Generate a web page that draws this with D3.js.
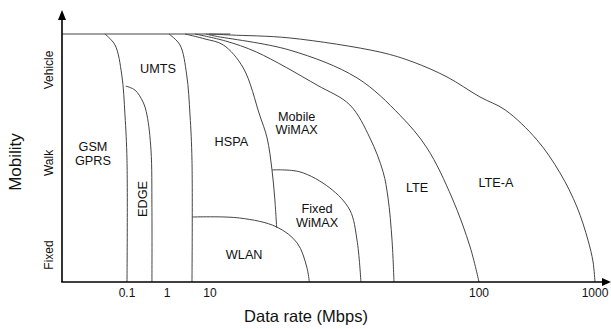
<!DOCTYPE html>
<html lang="en">
<head>
<meta charset="UTF-8">
<title>Mobility vs data rate</title>
<script src="https://d3js.org/d3.v7.min.js"></script>
<style>
  body { margin: 0; background: #fff; }
  .boundary { fill: none; stroke: #444; stroke-width: 1; }
  .axis-line { stroke: #000; stroke-width: 1.6; }
  text { font-family: "Liberation Sans", Arial, sans-serif; fill: #111; }
</style>
</head>
<body>
<script>
// x tick values (Mbps) and mobility levels
const rateTicks = [0.1, 1, 10, 100, 1000];
const mobilityLevels = ["Fixed", "Walk", "Vehicle"];
const mobilityPos = [0.109, 0.48, 0.855];

// boundary curves, [rate in Mbps, mobility 0..1]
const topLine = [[0.0024, 1], [11.9, 1]];
const gsm = [[0.028, 1], [0.05, 0.956], [0.074, 0.835], [0.089, 0.673], [0.1, 0.49], [0.1, 0]];
const edge = [[0.093, 0.79], [0.158, 0.774], [0.251, 0.726], [0.316, 0.673], [0.398, 0.532], [0.42, 0.3], [0.42, 0]];
const umts = [[1.11, 1], [2.0, 0.956], [2.87, 0.835], [3.43, 0.673], [3.81, 0.49], [3.81, 0]];
const hspa = [[2.62, 1], [7.65, 0.98], [11.2, 0.956], [13.3, 0.863], [15.3, 0.673], [16.3, 0.581], [17.0, 0.452], [17.4, 0.339], [17.7, 0.218]];
const mobileWimax = [[4.48, 1], [11.4, 0.972], [14.9, 0.927], [25.0, 0.794], [33.1, 0.714], [39.3, 0.581], [44.0, 0.444], [45.9, 0.339], [47.5, 0.169], [48.3, 0]];
const lte = [[8.0, 1], [10.4, 0.992], [19.8, 0.935], [35.2, 0.823], [50.8, 0.673], [64.1, 0.54], [79.4, 0.339], [92.7, 0.141], [100, 0]];
const lteA = [[9.5, 1], [11.9, 0.996], [19.8, 0.984], [42.9, 0.927], [56.9, 0.887], [76.0, 0.827], [102, 0.746], [168, 0.694], [316, 0.573], [499, 0.44], [700, 0.302], [870, 0.169], [962, 0.081], [1000, 0]];
const wlan = [[3.81, 0.262], [12.9, 0.258], [17.7, 0.222], [21.1, 0.157], [22.9, 0.06], [23.4, 0]];
const fixedWimax = [[17.0, 0.452], [21.6, 0.444], [27.9, 0.379], [33.1, 0.29], [35.2, 0.169], [36.4, 0]];

const boundaries = [topLine, gsm, edge, umts, hspa, mobileWimax, lte, lteA, wlan, fixedWimax];

// region labels: lines of text, rate, mobility, rotated?
const regionNames = [["GSM", "GPRS"], ["UMTS"], ["EDGE"], ["HSPA"], ["Mobile", "WiMAX"], ["Fixed", "WiMAX"], ["WLAN"], ["LTE"], ["LTE-A"]];
const regionRates = [0.0141, 0.596, 0.251, 12.0, 21.0, 25.0, 13.4, 58.9, 140];
const regionMobility = [0.518, 0.861, 0.335, 0.565, 0.641, 0.268, 0.109, 0.379, 0.403];
const regionRotated = [false, false, true, false, false, false, false, false, false];

const width = 611, height = 329;
const x0 = 62, xEnd = 610, yBase = 282, yTop = 10;

const svg = d3.select("body").append("svg")
    .attr("width", width)
    .attr("height", height);

// the printed log axis is not evenly spaced, so each decade gets its own segment
const x = d3.scaleLog()
    .domain(rateTicks)
    .range([127, 167, 210, 479, 595]);

const y = d3.scaleLinear()
    .domain([0, 1])
    .range([yBase, 34]);

const line = d3.line()
    .x(d => x(d[0]))
    .y(d => y(d[1]))
    .curve(d3.curveCatmullRom.alpha(0.5));

svg.selectAll(".boundary")
    .data(boundaries)
    .enter().append("path")
    .attr("class", "boundary")
    .attr("d", line);

// axes with arrow heads
svg.append("line").attr("class", "axis-line")
    .attr("x1", x0).attr("y1", yBase).attr("x2", x0).attr("y2", yTop + 6);
svg.append("line").attr("class", "axis-line")
    .attr("x1", x0 - 0.8).attr("y1", yBase).attr("x2", xEnd - 6).attr("y2", yBase);
svg.append("path")
    .attr("d", `M${x0},${yTop} L${x0 - 4},${yTop + 10} L${x0 + 4},${yTop + 10} Z`)
    .attr("fill", "#000");
svg.append("path")
    .attr("d", `M${xEnd + 1},${yBase} L${xEnd - 8},${yBase - 4} L${xEnd - 8},${yBase + 4} Z`)
    .attr("fill", "#000");

// x tick labels
svg.selectAll(".xtick")
    .data(rateTicks)
    .enter().append("text")
    .attr("class", "xtick")
    .attr("x", d => x(d))
    .attr("y", yBase + 15)
    .attr("text-anchor", "middle")
    .attr("font-size", 12)
    .text(d => d);

// y level labels, rotated
svg.selectAll(".ytick")
    .data(mobilityLevels)
    .enter().append("text")
    .attr("class", "ytick")
    .attr("transform", (d, i) => `translate(49,${y(mobilityPos[i])}) rotate(-90)`)
    .attr("text-anchor", "middle")
    .attr("dominant-baseline", "central")
    .attr("font-size", 12)
    .text(d => d);

// axis titles
svg.append("text")
    .attr("x", 306).attr("y", 322)
    .attr("text-anchor", "middle")
    .attr("font-size", 16.5)
    .text("Data rate (Mbps)");

svg.append("text")
    .attr("transform", "translate(15,162) rotate(-90)")
    .attr("text-anchor", "middle")
    .attr("dominant-baseline", "central")
    .attr("font-size", 17)
    .text("Mobility");

// region labels
const labels = svg.selectAll(".region")
    .data(regionNames)
    .enter().append("text")
    .attr("class", "region")
    .attr("font-size", 12.7)
    .attr("text-anchor", "middle")
    .attr("transform", (d, i) => `translate(${x(regionRates[i])},${y(regionMobility[i])})` + (regionRotated[i] ? " rotate(-90)" : ""));

labels.selectAll("tspan")
    .data(d => d.map((t, j) => ({ t, j, n: d.length })))
    .enter().append("tspan")
    .attr("x", 0)
    .attr("y", d => (d.j - (d.n - 1) / 2) * 13.5)
    .attr("dy", "0.35em")
    .text(d => d.t);
</script>
</body>
</html>
